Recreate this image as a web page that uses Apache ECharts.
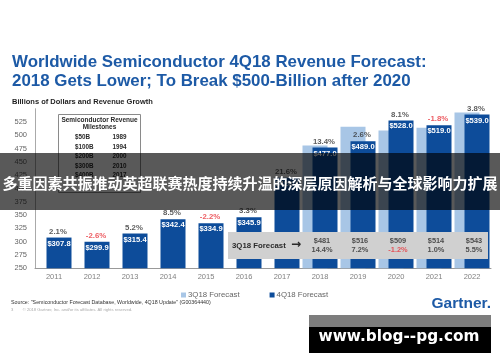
<!DOCTYPE html>
<html><head><meta charset="utf-8">
<script src="https://cdn.jsdelivr.net/npm/echarts@6/dist/echarts.min.js"></script>
<style>html,body{margin:0;padding:0;background:#fff}#c{width:500px;height:362px}</style>
</head><body><div id="c"></div>
<script>
// ---- data ----
const years = ['2011','2012','2013','2014','2015','2016','2017','2018','2019','2020','2021','2022'];
const rev4Q18 = [307.8, 299.9, 315.4, 342.4, 334.9, 345.9, 420.4, 477.0, 489.0, 528.0, 519.0, 539.0];
const growth4Q18 = [2.1, -2.6, 5.2, 8.5, -2.2, 3.3, 21.6, 13.4, 2.6, 8.1, -1.8, 3.8];
const rev3Q18 = [null, null, null, null, null, null, null, 481, 516, 509, 514, 543];
const growth3Q18 = [null, null, null, null, null, null, null, 14.4, 7.2, -1.2, 1.0, 5.5];
const yMin = 250, yMax = 550, yStep = 25;
const milestoneAmounts = ['$50B', '$100B', '$200B', '$300B', '$400B'];
const milestoneYears = ['1989', '1994', '2000', '2010', '2017'];

// ---- styles ----
const DARK = '#0d4c9a', LIGHT = '#a8c6e6', RED = '#e8333b', TXT = '#2a2a2a';
const FONT = '"Liberation Sans", Arial, sans-serif';
const BOX_Y = 293; // vertical level of the 3Q18 annotation row (axis units)
const pct = v => v.toFixed(1) + '%';

const chart = echarts.init(document.getElementById('c'), null, {renderer: 'canvas'});

function txt(x, y, text, font, fill, align, z) {
  return {type: 'text', x: x, y: y, z: z || 50,
    style: {text: text, font: font, fill: fill,
      textAlign: align || 'left', align: align || 'left',
      textVerticalAlign: 'middle', verticalAlign: 'middle'}};
}

const graphics = [];
// title & subtitle
graphics.push(txt(12, 62, 'Worldwide Semiconductor 4Q18 Revenue Forecast:', 'bold 16.9px ' + FONT, '#1d5aa6'));
graphics.push(txt(12, 81, '2018 Gets Lower; To Break $500-Billion after 2020', 'bold 16.9px ' + FONT, '#1d5aa6'));
graphics.push(txt(12, 101.5, 'Billions of Dollars and Revenue Growth', 'bold 7.5px ' + FONT, '#1e1e1e'));
// milestones box
graphics.push({type: 'rect', z: 40, shape: {x: 58.5, y: 114.5, width: 82, height: 78},
  style: {fill: '#fff', stroke: '#8a8a8a', lineWidth: 1}});
graphics.push(txt(99.5, 120, 'Semiconductor Revenue', 'bold 6.5px ' + FONT, TXT, 'center'));
graphics.push(txt(99.5, 127, 'Milestones', 'bold 6.5px ' + FONT, TXT, 'center'));
milestoneAmounts.forEach((a, i) => {
  graphics.push(txt(75, 137.3 + i * 9.5, a, 'bold 6.3px ' + FONT, TXT));
  graphics.push(txt(112.5, 137.3 + i * 9.5, milestoneYears[i], 'bold 6.3px ' + FONT, TXT));
});
// 3Q18 forecast box
graphics.push({type: 'rect', z: 5, shape: {x: 228, y: 232, width: 260, height: 27},
  style: {fill: '#d0d0d0'}});
graphics.push(txt(232, 245.7, '3Q18 Forecast', 'bold 7.8px ' + FONT, TXT));
graphics.push(txt(291, 245.2, '\u2192', 'bold 12px "DejaVu Sans", sans-serif', TXT));
// footer
graphics.push(txt(11, 302.5, 'Source: "Semiconductor Forecast Database, Worldwide, 4Q18 Update" (G00364440)', '5.3px ' + FONT, '#333'));
graphics.push(txt(11, 310, '3        \u00a9 2018 Gartner, Inc. and/or its affiliates. All rights reserved.', '4.2px ' + FONT, '#aaa'));
graphics.push(txt(491, 304, 'Gartner.', 'bold 15.5px ' + FONT, '#1d5aa6', 'right'));
// overlay banner
graphics.push({type: 'rect', z: 100, shape: {x: 0, y: 153, width: 500, height: 57},
  style: {fill: 'rgba(0,0,0,0.65)'}});
graphics.push(txt(250, 183, '多重因素共振推动英超联赛热度持续升温的深层原因解析与全球影响力扩展',
  'bold 15px "Noto Sans CJK SC", sans-serif', '#fff', 'center', 101));
// watermark
graphics.push({type: 'rect', z: 100, shape: {x: 309, y: 315, width: 182, height: 12}, style: {fill: '#7d7d7d'}});
graphics.push({type: 'rect', z: 100, shape: {x: 309, y: 327, width: 182, height: 26}, style: {fill: '#000'}});
graphics.push(txt(399, 337.5, 'www.blog--pg.com', 'bold 15.3px "DejaVu Sans", sans-serif', '#fff', 'center', 101));

const option = {
  animation: false,
  backgroundColor: '#fff',
  textStyle: {fontFamily: FONT},
  grid: {left: 35, right: 9, top: 108.7, bottom: 93.7, containLabel: false},
  legend: {
    data: ['3Q18 Forecast', '4Q18 Forecast'],
    left: 176, top: 286, itemWidth: 5, itemHeight: 5, itemGap: 30, icon: 'rect',
    textStyle: {fontSize: 7.8, color: '#666', fontFamily: FONT, padding: [0, 0, 0, -3]}
  },
  xAxis: {
    type: 'category', data: years,
    axisLine: {lineStyle: {color: '#999', width: 1}},
    axisTick: {show: false},
    axisLabel: {color: '#808080', fontSize: 7.5, margin: 5}
  },
  yAxis: {
    type: 'value', min: yMin, max: yMax, interval: yStep,
    splitLine: {show: false},
    axisLine: {show: true, lineStyle: {color: '#aaa', width: 1}},
    axisTick: {show: false},
    axisLabel: {color: '#666', fontSize: 7.5, margin: 8,
      formatter: v => (v >= yMax ? '' : String(v))}
  },
  series: [
    {
      name: '3Q18 Forecast', type: 'bar', data: rev3Q18,
      barWidth: 25, barGap: '-60%', z: 2,
      itemStyle: {color: LIGHT}
    },
    {
      name: '4Q18 Forecast', type: 'bar', data: rev4Q18,
      barWidth: 25, z: 3,
      itemStyle: {color: DARK},
      label: {show: true, position: 'insideTop', distance: 2, color: '#fff',
        fontSize: 7.6, fontWeight: 'bold', formatter: p => '$' + p.value.toFixed(1)}
    },
    {
      name: 'growth4Q18', type: 'scatter', symbolSize: 0, z: 4, silent: true,
      data: rev4Q18.map((v, i) => ({
        value: [i, v],
        label: {color: growth4Q18[i] < 0 ? RED : '#333'}
      })),
      label: {show: true, position: 'top', distance: 2, offset: [4, 0],
        fontSize: 7.8, fontWeight: 'bold', formatter: p => pct(growth4Q18[p.dataIndex])}
    },
    {
      name: 'box3Q18', type: 'scatter', symbolSize: 0, z: 10, silent: true,
      data: rev3Q18.map((v, i) => [i, v == null ? null : BOX_Y]),
      label: {show: true, position: 'inside', offset: [2, 0],
        formatter: p => {
          const i = p.dataIndex;
          if (rev3Q18[i] == null) return '';
          const g = growth3Q18[i];
          return '{v|$' + rev3Q18[i] + '}\n' + (g < 0 ? '{r|' + pct(g) + '}' : '{v|' + pct(g) + '}');
        },
        rich: {
          v: {fontSize: 7.4, fontWeight: 'bold', color: TXT, lineHeight: 9, fontFamily: FONT},
          r: {fontSize: 7.4, fontWeight: 'bold', color: RED, lineHeight: 9, fontFamily: FONT}
        }
      }
    }
  ],
  graphic: {elements: graphics}
};
chart.setOption(option);
</script>
</body></html>
